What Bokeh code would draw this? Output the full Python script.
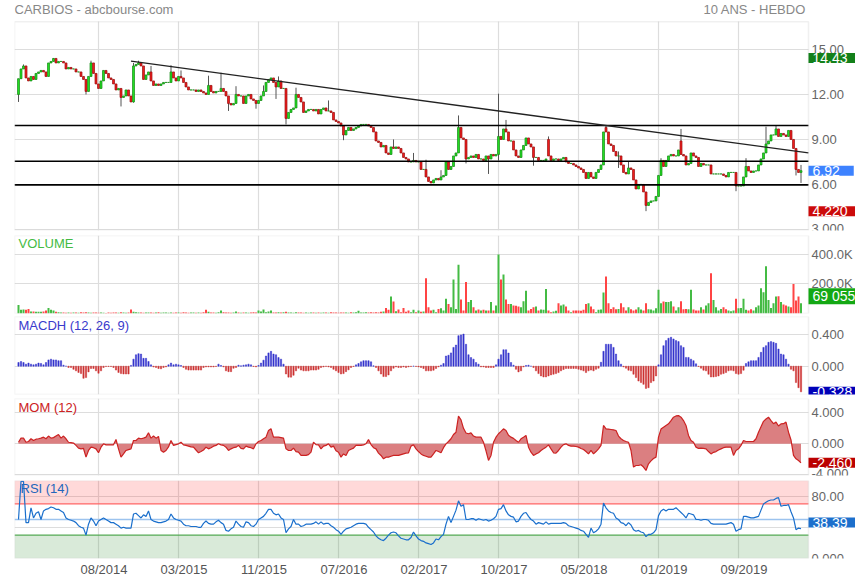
from bokeh.plotting import figure
from bokeh.layouts import column
from bokeh.models import (ColumnDataSource, Range1d, FixedTicker, LinearAxis, Grid,
                          BoxAnnotation, Label)
from bokeh.embed import file_html
from bokeh.resources import INLINE

# ---------------- data (weekly bars) ----------------
closes = [
    13.05, 13.7, 13.9, 13.1, 12.9, 13.2, 13.0, 13.4, 13.5, 13.6,
    13.5, 13.2, 14.1, 14.2, 14.4, 14.1, 14.2, 14.2, 14.1, 13.7,
    13.8, 13.7, 13.7, 13.5, 13.5, 13.2, 13.0, 12.2, 13.2, 14.1,
    13.4, 12.7, 12.4, 12.9, 13.6, 13.4, 13.1, 13.0, 12.7, 12.3,
    12.4, 11.8, 11.9, 12.3, 11.9, 11.5, 13.9, 14.0, 14.1, 13.9,
    13.0, 13.3, 13.5, 12.9, 12.6, 12.7, 12.6, 12.7, 12.8, 12.8,
    12.8, 13.5, 13.1, 12.9, 13.2, 13.1, 12.8, 12.5, 12.3, 12.3,
    12.3, 12.2, 12.3, 12.2, 12.1, 12.0, 12.6, 12.2, 12.1, 12.2,
    12.2, 12.4, 12.2, 11.9, 11.4, 11.3, 11.4, 12.0, 11.9, 11.9,
    11.4, 11.9, 12.0, 11.7, 11.6, 11.4, 11.6, 11.9, 12.2, 12.8,
    13.0, 13.1, 12.8, 12.5, 12.9, 12.4, 12.4, 10.4, 10.8, 11.0,
    11.1, 12.0, 11.8, 11.5, 10.8, 10.9, 11.0, 11.0, 10.9, 11.0,
    10.7, 11.0, 11.1, 10.9, 10.9, 10.8, 10.3, 10.2, 10.1, 9.9,
    9.3, 9.6, 9.8, 9.6, 9.7, 9.8, 9.9, 10.0, 10.0, 10.0,
    9.9, 9.8, 9.5, 8.9, 8.8, 8.5, 8.6, 8.1, 8.0, 8.5,
    8.4, 8.5, 8.4, 8.1, 7.8, 7.7, 7.5, 7.5, 7.6, 7.5,
    7.5, 7.0, 7.0, 6.5, 6.2, 6.1, 6.3, 6.4, 6.3, 6.5,
    6.6, 7.5, 7.0, 7.2, 7.9, 8.1, 9.8, 9.1, 9.0, 7.7,
    7.8, 7.9, 7.8, 8.0, 7.7, 7.7, 7.6, 7.9, 7.7, 8.0,
    7.9, 8.0, 9.2, 9.0, 9.7, 9.5, 8.9, 8.9, 8.3, 7.9,
    7.8, 8.3, 8.6, 9.1, 8.7, 8.5, 7.8, 7.8, 7.6, 7.6,
    7.6, 7.7, 7.9, 7.6, 7.7, 7.7, 7.6, 7.7, 7.8, 7.5,
    7.4, 7.4, 7.3, 7.2, 7.1, 7.0, 6.8, 6.4, 6.8, 6.5,
    6.4, 6.8, 7.0, 7.3, 9.5, 9.5, 8.7, 8.6, 8.2, 7.9,
    7.9, 7.3, 6.8, 6.7, 7.1, 7.0, 6.3, 5.7, 6.0, 6.0,
    5.5, 4.6, 4.8, 4.9, 4.9, 5.2, 6.6, 7.6, 7.2, 7.6,
    7.9, 8.0, 7.9, 7.9, 8.3, 8.0, 7.9, 7.3, 7.4, 8.1,
    7.9, 7.8, 7.2, 7.4, 7.3, 7.3, 7.3, 6.7, 6.7, 6.7,
    6.7, 6.7, 6.6, 6.5, 6.8, 6.8, 6.8, 5.9, 5.9, 5.9,
    6.5, 7.2, 6.9, 6.8, 6.9, 6.9, 7.3, 7.7, 8.1, 8.7,
    8.9, 9.3, 9.3, 9.7, 9.2, 9.4, 9.3, 9.2, 9.6, 9.0,
    8.4, 7.0, 6.8, 6.92,
]
first_open = 12.0
open_gaps = {212: 9.0, 235: 9.8, 265: 8.9}
wick_high = {2: 14.0, 14: 14.43, 29: 14.25, 46: 14.1, 48: 14.25, 53: 13.9, 61: 13.95,
             65: 13.6, 76: 13.25, 81: 13.45, 87: 12.55, 98: 12.6, 104: 13.2, 111: 12.45,
             124: 11.6, 150: 9.0, 158: 8.1, 163: 7.65, 169: 6.95, 176: 10.6, 192: 12.05,
             195: 10.3, 212: 9.2, 235: 9.93, 240: 8.2, 244: 7.5, 257: 7.75, 265: 9.7,
             291: 7.75, 299: 9.85, 303: 9.95, 313: 7.3}
wick_low = {0: 11.5, 27: 12.0, 41: 11.2, 46: 11.45, 84: 10.9, 95: 11.05, 103: 11.7,
            107: 10.0, 130: 8.95, 179: 7.4, 188: 6.7, 192: 7.6, 206: 7.25, 240: 7.1,
            251: 4.22, 287: 5.55, 311: 6.6, 313: 6.1}

volume_k = [
    58, 25, 27, 25, 31, 13, 13, 11, 11, 11,
    13, 20, 38, 25, 20, 11, 8, 6, 7, 5,
    6, 5, 7, 6, 5, 8, 6, 9, 7, 5,
    6, 7, 5, 6, 5, 4, 6, 5, 7, 6,
    5, 8, 6, 5, 7, 27, 11, 8, 6, 7,
    5, 6, 7, 6, 5, 6, 8, 5, 6, 7,
    5, 6, 5, 7, 6, 5, 8, 6, 5, 6,
    7, 5, 6, 5, 9, 25, 11, 6, 7, 5,
    8, 20, 9, 6, 7, 5, 6, 13, 7, 5,
    6, 7, 5, 6, 8, 6, 20, 13, 27, 9,
    13, 20, 7, 6, 8, 7, 9, 11, 6, 7,
    5, 8, 6, 7, 5, 6, 5, 7, 6, 5,
    6, 5, 7, 6, 5, 8, 6, 7, 5, 6,
    7, 6, 5, 8, 6, 9, 18, 7, 6, 8,
    7, 9, 6, 8, 7, 11, 13, 38, 25, 115,
    81, 15, 27, 9, 38, 11, 20, 9, 25, 9,
    20, 11, 13, 238, 43, 20, 25, 9, 31, 36,
    20, 99, 65, 43, 230, 31, 329, 95, 20, 212,
    77, 92, 43, 20, 27, 20, 25, 20, 20, 77,
    20, 54, 399, 230, 263, 95, 65, 65, 54, 52,
    47, 43, 83, 153, 20, 31, 43, 47, 20, 27,
    25, 166, 20, 9, 13, 18, 70, 54, 61, 47,
    20, 9, 20, 20, 20, 18, 25, 65, 70, 47,
    29, 9, 25, 27, 142, 250, 70, 31, 43, 29,
    31, 70, 43, 20, 43, 29, 20, 27, 43, 27,
    20, 70, 29, 27, 20, 36, 160, 70, 81, 77,
    77, 83, 47, 20, 43, 83, 29, 31, 29, 160,
    27, 20, 20, 43, 27, 54, 70, 272, 92, 43,
    20, 31, 43, 29, 20, 16, 20, 99, 36, 38,
    99, 25, 20, 29, 20, 43, 54, 171, 144, 320,
    92, 38, 70, 115, 117, 77, 61, 54, 47, 43,
    200, 88, 115, 69.055,
]

macdh = [
    0.047, 0.06, 0.047, 0.026, 0.04, 0.026, 0.017, 0.026, 0.04, 0.035,
    0.017, 0.047, 0.08, 0.09, 0.08, 0.08, 0.07, 0.07, 0.013, 0.0,
    -0.017, -0.017, -0.04, -0.06, -0.08, -0.095, -0.155, -0.146, -0.073, -0.03,
    -0.03, -0.06, -0.09, -0.06, -0.017, -0.004, -0.004, -0.004, -0.017, -0.05,
    -0.08, -0.095, -0.1, -0.1, -0.1, 0.01, 0.09, 0.146, 0.16, 0.155,
    0.1, 0.1, 0.06, 0.017, -0.01, -0.017, -0.03, -0.034, -0.017, -0.009,
    0.017, 0.04, 0.017, 0.026, 0.017, 0.009, -0.017, -0.04, -0.05, -0.05,
    -0.05, -0.05, -0.05, -0.05, -0.017, -0.009, -0.009, -0.009, -0.009, -0.004,
    0.026, 0.009, -0.009, -0.06, -0.07, -0.07, -0.026, -0.017, 0.013, 0.004,
    0.013, 0.017, 0.026, 0.017, -0.004, -0.009, 0.009, 0.04, 0.077, 0.13,
    0.17, 0.19, 0.155, 0.146, 0.11, 0.09, 0.026, -0.1, -0.14, -0.14,
    -0.116, -0.06, -0.026, -0.05, -0.06, -0.06, -0.06, -0.05, -0.05, -0.05,
    -0.04, -0.017, -0.009, -0.003, -0.009, -0.017, -0.04, -0.06, -0.08, -0.1,
    -0.095, -0.07, -0.047, -0.017, -0.004, 0.017, 0.034, 0.056, 0.07, 0.07,
    0.07, 0.056, 0.004, -0.017, -0.06, -0.1, -0.133, -0.133, -0.112, -0.06,
    -0.026, -0.009, -0.017, -0.017, -0.009, -0.017, -0.009, -0.004, 0.0, -0.004,
    -0.009, -0.017, -0.03, -0.06, -0.06, -0.06, -0.052, -0.03, -0.009, 0.013,
    0.034, 0.13, 0.14, 0.17, 0.24, 0.27, 0.39, 0.4, 0.41, 0.28,
    0.146, 0.11, 0.09, 0.047, 0.026, -0.009, -0.009, -0.017, -0.017, -0.017,
    -0.017, 0.017, 0.09, 0.146, 0.21, 0.21, 0.168, 0.047, 0.013, -0.04,
    -0.073, -0.06, -0.009, 0.009, 0.013, 0.0, -0.017, -0.06, -0.095, -0.125,
    -0.138, -0.138, -0.125, -0.112, -0.103, -0.095, -0.082, -0.06, -0.043, -0.03,
    -0.03, -0.03, -0.03, -0.03, -0.039, -0.05, -0.06, -0.082, -0.06, -0.05,
    -0.06, -0.04, -0.026, 0.05, 0.19, 0.28, 0.28, 0.28, 0.24, 0.155,
    0.07, 0.026, -0.009, -0.026, -0.052, -0.06, -0.103, -0.146, -0.19, -0.21,
    -0.232, -0.284, -0.275, -0.21, -0.19, -0.125, 0.017, 0.146, 0.262, 0.327,
    0.357, 0.37, 0.348, 0.327, 0.314, 0.262, 0.24, 0.112, 0.112, 0.09,
    0.07, 0.03, -0.004, -0.026, -0.052, -0.06, -0.103, -0.138, -0.138, -0.133,
    -0.125, -0.103, -0.095, -0.082, -0.06, -0.052, -0.06, -0.095, -0.103, -0.095,
    -0.052, 0.034, 0.056, 0.07, 0.07, 0.07, 0.112, 0.177, 0.24, 0.262,
    0.305, 0.314, 0.305, 0.292, 0.219, 0.155, 0.146, 0.09, 0.026, -0.04,
    -0.06, -0.21, -0.275, -0.328,
]

mom = [
    0.2, 0.73, 0.73, 0.2, 0.3, 0.65, 0.43, 0.6, 0.65, 0.73,
    0.86, 0.65, 1.0, 0.73, 0.8, 1.0, 1.2, 0.73, 1.0, 0.65,
    0.2, 0.15, 0.1, -0.2, -0.55, -0.65, -0.6, -1.72, -0.86, -0.43,
    -0.5, -0.65, -1.16, -0.43, 0.0, -0.13, -0.13, -0.13, -0.13, 0.56,
    -0.65, -1.72, -1.3, -0.86, -0.75, -0.65, 0.43, 0.43, 0.73, 0.65,
    0.73, 0.86, 1.42, 0.73, 1.0, 0.73, 0.95, -0.86, -1.08, -0.86,
    -0.4, 0.43, -0.2, -0.1, 0.0, 0.2, -0.13, -0.2, -0.3, -0.4,
    -0.43, -0.8, -1.16, -1.0, -0.8, -0.43, -0.65, -0.5, -0.3, -0.2,
    0.0, -0.13, -0.2, -0.43, -0.86, -0.65, -0.5, -0.43, -0.2, -0.6,
    -0.65, -0.3, -0.43, -0.5, -0.65, 0.0, 0.3, 0.43, 0.65, 0.86,
    1.72, 1.94, 0.86, 0.86, 0.86, 0.8, 0.73, -0.65, -0.86, -0.86,
    -0.56, -1.0, -1.08, -1.5, -1.5, -1.5, -1.4, -1.08, 0.2, -0.1,
    -0.13, -0.65, -0.3, -0.2, 0.0, -0.43, -0.3, -0.9, -1.08, -1.72,
    -1.3, -1.5, -0.86, -0.7, -0.56, -0.2, -0.2, -0.2, -0.13, 0.0,
    0.56, -0.1, -0.5, -0.65, -1.2, -1.5, -1.94, -1.72, -1.72, -1.6,
    -1.5, -1.5, -1.5, -1.4, -1.3, -1.2, -1.16, -0.3, -0.13, -0.65,
    -1.0, -1.3, -1.5, -1.6, -1.72, -1.72, -1.3, -0.86, -1.0, -1.16,
    -0.5, 0.0, 0.3, 0.65, 1.2, 1.5, 3.57, 3.1, 2.0, 1.4,
    1.3, 1.42, 1.0, 0.86, 0.86, 0.86, 0.2, -0.9, -2.15, -1.5,
    0.2, 0.86, 1.3, 1.6, 1.94, 1.72, 1.1, 0.86, 0.7, 0.43,
    0.2, 0.65, 0.86, 1.08, -0.43, -1.08, -1.5, -1.3, -1.16, -0.86,
    -0.65, -0.43, -0.13, -0.65, -1.16, -1.2, -0.86, -0.43, -0.1, 0.0,
    -0.2, -0.3, -0.3, -0.35, -0.43, -0.6, -0.73, -1.0, -1.3, -0.86,
    -1.3, -1.0, -0.65, -0.2, 2.37, 1.94, 1.9, 1.85, 1.8, 1.72,
    1.0, 0.65, 0.43, 0.3, 0.2, -0.86, -3.0, -2.8, -2.8, -2.7,
    -3.0, -3.44, -2.58, -2.2, -1.9, -1.72, 0.86, 1.9, 2.15, 2.37,
    2.58, 3.0, 3.44, 3.6, 3.65, 3.44, 3.0, 2.37, 1.08, 0.43,
    0.2, -0.43, -0.6, -0.56, -0.6, -0.65, -1.0, -1.3, -1.1, -1.0,
    -0.8, -0.65, -0.5, -0.43, -0.43, -0.43, -1.5, -0.86, -0.65, -0.2,
    0.43, 0.3, 0.3, 0.3, 0.3, 0.65, 1.5, 2.2, 2.9, 3.2,
    3.44, 3.0, 2.6, 2.8, 2.3, 2.58, 2.6, 2.8, 1.5, 0.5,
    -1.5, -1.94, -2.15, -2.46,
]

rsi = [
    50, 99, 99, 46, 46, 65, 52, 58, 60, 50,
    61, 63, 64, 66, 65, 63, 63, 61, 59, 52,
    50, 49, 48, 46, 42, 40, 39, 30, 44, 52,
    48, 42, 48, 50, 52, 50, 48, 46, 46, 44,
    42, 39, 40, 39, 39, 39, 57, 58, 55, 52,
    56, 54, 61, 50, 48, 47, 46, 46, 47, 48,
    50, 57, 52, 50, 49, 48, 44, 42, 42, 41,
    41, 41, 40, 40, 45, 48, 45, 44, 44, 47,
    49, 46, 44, 36, 35, 38, 40, 48, 44, 41,
    40, 47, 46, 42, 41, 44, 50, 52, 54, 58,
    63, 63, 58, 56, 57, 52, 50, 33, 38, 41,
    50, 44, 44, 41, 42, 44, 44, 44, 45, 47,
    44, 47, 44, 45, 45, 42, 40, 37, 35, 31,
    35, 38, 39, 40, 42, 44, 45, 45, 45, 44,
    40, 37, 34, 29, 26, 24, 23, 26, 30, 33,
    34, 33, 29, 26, 25, 24, 24, 27, 34, 29,
    25, 23, 22, 20, 19, 18, 20, 25, 24, 28,
    31, 44, 54, 46, 54, 62, 74, 67, 69, 50,
    50, 51, 51, 49, 51, 50, 49, 50, 48, 49,
    51, 54, 63, 64, 69, 61, 56, 54, 53, 47,
    48, 54, 58, 59, 54, 50, 48, 44, 46, 45,
    44, 47, 44, 45, 45, 45, 45, 45, 46, 45,
    42, 41, 40, 39, 38, 36, 35, 31, 27, 39,
    33, 35, 38, 44, 71, 65, 61, 59, 58, 52,
    50, 46, 45, 42, 46, 43, 37, 35, 36, 34,
    33, 28, 31, 31, 33, 37, 55, 61, 63, 61,
    63, 63, 63, 65, 62, 59, 56, 52, 58, 57,
    56, 50, 50, 49, 50, 50, 49, 45, 44, 44,
    44, 44, 44, 44, 45, 46, 44, 35, 37, 38,
    54, 54, 53, 52, 52, 53, 54, 62, 70, 72,
    74, 75, 75, 77, 78, 67, 68, 68, 69, 60,
    52, 37, 39, 38.39,
]

grid_bars = [32, 64, 96, 128, 160, 192, 224, 256, 288]
label_bars = [34.2, 66.2, 98.2, 130.2, 162.2, 194.2, 226.2, 258.2, 290.2]
tick_labels = ["08/2014", "03/2015", "11/2015", "07/2016", "02/2017",
               "10/2017", "05/2018", "01/2019", "09/2019"]
levels = [9.93, 7.55, 5.97]
trend_x = [45, 316]
trend_y = [14.22, 8.1]
rsi_lines = [70, 50, 30]
price_max, price_min, last_close = 14.43, 4.22, 6.92
last_volume, last_macdh, last_mom, last_rsi = 69055, -0.328, -2.46, 38.39

# ---------------- derived columns ----------------
N = len(closes)
idx = list(range(N))
opens = [first_open] + closes[:-1]
for k, v in open_gaps.items():
    opens[k] = v
highs = [max(o, c) for o, c in zip(opens, closes)]
lows = [min(o, c) for o, c in zip(opens, closes)]
for k, v in wick_high.items():
    highs[k] = v
for k, v in wick_low.items():
    lows[k] = v
up = [c >= o for o, c in zip(opens, closes)]

src = ColumnDataSource(dict(
    x=idx, top=[max(o, c) for o, c in zip(opens, closes)],
    bot=[min(o, c) for o, c in zip(opens, closes)], hi=highs, lo=lows,
    body=["#22dd22" if u else "#ee1c1c" for u in up],
    edge=["#168a16" if u else "#9a1212" for u in up],
    vol=[v * 1000 for v in volume_k],
    vcol=["#44bb44" if u else "#ff4444" for u in up],
    macd=macdh, mcol=["#3535cc" if m >= 0 else "#cc3333" for m in macdh],
    mom=mom, zero=[0] * N, rsi=rsi,
))

FONT = "Liberation Sans"
X0, X1 = -1.6, 316.0          # plotted bar span (frame of each panel)
XR = X1 + 47 / 2.5            # right margin that holds the value labels
GRID = "#dddddd"


def panel(y0, y1, fh, top, bottom, yticks, ylabels, ytop=None):
    ytop = y1 if ytop is None else ytop
    p = figure(frame_width=841, frame_height=fh, x_range=Range1d(X0, XR),
               y_range=Range1d(y0, ytop), x_axis_location=None, y_axis_location=None,
               toolbar_location=None, output_backend="svg",
               min_border_left=14, min_border_right=0,
               min_border_top=top, min_border_bottom=bottom)
    p.grid.visible = False
    p.outline_line_color = None
    p.add_layout(Grid(dimension=0, ticker=FixedTicker(ticks=grid_bars),
                      cross_bounds=(y0, y1), grid_line_color=GRID, grid_line_width=1.2))
    p.add_layout(Grid(dimension=1, ticker=FixedTicker(ticks=yticks),
                      cross_bounds=(X0, X1), grid_line_color=GRID, grid_line_width=1.2))
    p.add_layout(BoxAnnotation(left=X0, right=X1, bottom=y0, top=y1, fill_alpha=0,
                               line_color="#cccccc", line_width=1.5))
    ax = LinearAxis(ticker=FixedTicker(ticks=yticks), fixed_location=X1,
                    major_label_overrides=dict(zip(yticks, ylabels)),
                    axis_line_color=None, major_tick_line_color=None,
                    minor_tick_line_color=None, major_tick_out=0, major_tick_in=0,
                    major_label_standoff=3,
                    major_label_text_font=FONT, major_label_text_font_size="13px",
                    major_label_text_color="#666666")
    p.add_layout(ax, "right")
    return p


def box(p, yv, text, color, yoff=0):
    p.add_layout(Label(x=X1, y=yv, text=text, text_align="left", text_baseline="middle",
                       y_offset=yoff, text_color="white", text_font=FONT,
                       text_font_size="14px", background_fill_color=color,
                       padding=dict(left=4, right=14, top=0, bottom=0)))


def title(p, xv, yv, text, color, align="left", size="13px"):
    p.add_layout(Label(x=xv, y=yv, text=text, text_align=align, text_baseline="middle",
                       text_color=color, text_font=FONT, text_font_size=size))


# ---- price ----
p1 = panel(2.93, 16.85, 230, 0, 2, [3, 6, 9, 12, 15],
           ["3.000", "6.00", "9.00", "12.00", "15.00"], ytop=2.93 + 230 / 15)
p1.segment(x0="x", y0="lo", x1="x", y1="hi", source=src, color="#555555", line_width=1)
p1.vbar(x="x", top="top", bottom="bot", width=0.8, source=src,
        fill_color="body", line_color="edge", line_width=0.7)
p1.segment(x0=[X0] * len(levels), x1=[X1] * len(levels), y0=levels, y1=levels,
           line_color="black", line_width=1.6)
p1.line(trend_x, trend_y, line_color="#222222", line_width=1.3)
box(p1, price_max, "14.43", "#13801a")
box(p1, last_close, "6.92", "#3d82ff")
box(p1, price_min, "4.220", "#cc0a0a")
title(p1, X0, 17.66, "CARBIOS - abcbourse.com", "#888888")
title(p1, 315.0, 17.66, "10 ANS - HEBDO", "#888888", align="right")

# ---- volume ----
p2 = panel(0, 527000, 78, 3, 2, [0, 200000, 400000], ["", "200.0K", "400.0K"])
p2.vbar(x="x", top="vol", bottom=0, width=0.8, source=src, fill_color="vcol", line_color=None)
box(p2, last_volume, "69 055", "#14a814", yoff=7)
title(p2, 0, 473000, "VOLUME", "#44bb44")

# ---- MACDH ----
p3 = panel(-0.362, 0.635, 78, 1, 2, [-0.4, 0.0, 0.4], ["-0.400", "0.000", "0.400"])
p3.vbar(x="x", top="macd", bottom=0, width=0.5, source=src, fill_color="mcol", line_color="mcol",
        line_width=0.5)
box(p3, last_macdh, "-0.328", "#0000b8")
title(p3, 0, 0.52, "MACDH (12, 26, 9)", "#3a3acc")

# ---- MOM ----
p4 = panel(-4.09, 5.85, 77, 2, 2, [-4, 0, 4], ["-4.000", "0.000", "4.000"])
p4.varea(x="x", y1="zero", y2="mom", source=src, fill_color="#d9787a", fill_alpha=0.95)
p4.line(x="x", y="mom", source=src, line_color="#cc2222", line_width=1.2)
box(p4, last_mom, "-2.460", "#bb0000")
title(p4, 0, 4.72, "MOM (12)", "#cc2222")

# ---- RSI ----
p5 = panel(0, 100, 78, 3, 22, [0, 40, 80], ["0.000", "", "80.00"])
p5.add_layout(BoxAnnotation(left=X0, right=X1, bottom=70, top=100, fill_color="#ff0000",
                            fill_alpha=0.15, line_color=None, level="underlay"))
p5.add_layout(BoxAnnotation(left=X0, right=X1, bottom=0, top=30, fill_color="#2e8b2e",
                            fill_alpha=0.18, line_color=None, level="underlay"))
p5.segment(x0=[X0] * 3, x1=[X1] * 3, y0=rsi_lines, y1=rsi_lines,
           line_color=["#ff6666", "#9cc3ee", "#55aa55"], line_width=1.3)
p5.line(x="x", y="rsi", source=src, line_color="#1a6fcc", line_width=1.2)
box(p5, last_rsi, "38.39", "#1c6fcc", yoff=6)
title(p5, 0.8, 89.3, "RSI (14)", "#2266bb")
xa = LinearAxis(ticker=FixedTicker(ticks=label_bars),
                major_label_overrides=dict(zip(label_bars, tick_labels)),
                axis_line_color=None, major_tick_line_color=None, minor_tick_line_color=None,
                major_tick_out=0, major_tick_in=0,
                major_label_standoff=3, major_label_text_font=FONT,
                major_label_text_font_size="13px", major_label_text_color="#555555")
p5.add_layout(xa, "below")

layout = column(p1, p2, p3, p4, p5, spacing=0)

open("out.html", "w").write(file_html(layout, INLINE))
